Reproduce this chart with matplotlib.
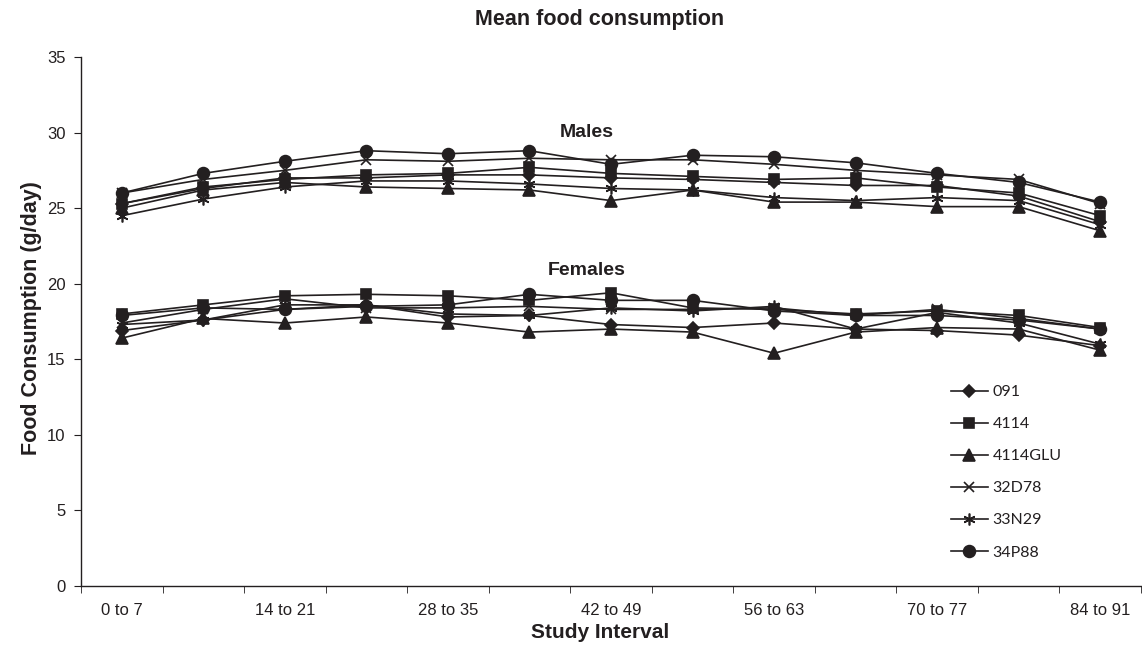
import matplotlib
matplotlib.use("Agg")
import matplotlib.pyplot as plt
import numpy as np

intervals = ["0 to 7", "7 to 14", "14 to 21", "21 to 28", "28 to 35", "35 to 42", "42 to 49",
             "49 to 56", "56 to 63", "63 to 70", "70 to 77", "77 to 84", "84 to 91"]
series_names = ["091", "4114", "4114GLU", "32D78", "33N29", "34P88"]

male_091 = [25.3, 26.3, 27.0, 27.0, 27.2, 27.2, 27.0, 26.9, 26.7, 26.5, 26.5, 25.8, 24.1]
male_4114 = [25.3, 26.4, 26.9, 27.2, 27.3, 27.7, 27.3, 27.1, 26.9, 27.0, 26.4, 26.0, 24.5]
male_4114glu = [25.0, 26.2, 26.7, 26.4, 26.3, 26.2, 25.5, 26.2, 25.4, 25.4, 25.1, 25.1, 23.5]
male_32d78 = [26.0, 26.9, 27.5, 28.2, 28.1, 28.3, 28.2, 28.2, 27.9, 27.5, 27.2, 26.9, 25.3]
male_33n29 = [24.5, 25.6, 26.4, 26.8, 26.8, 26.6, 26.3, 26.2, 25.7, 25.5, 25.7, 25.5, 23.9]
male_34p88 = [26.0, 27.3, 28.1, 28.8, 28.6, 28.8, 27.9, 28.5, 28.4, 28.0, 27.3, 26.7, 25.4]

female_091 = [16.9, 17.6, 18.3, 18.6, 17.8, 17.9, 17.3, 17.1, 17.4, 17.0, 16.9, 16.6, 15.9]
female_4114 = [18.0, 18.6, 19.2, 19.3, 19.2, 18.9, 19.4, 18.4, 18.3, 18.0, 18.2, 17.9, 17.1]
female_4114glu = [16.4, 17.7, 17.4, 17.8, 17.4, 16.8, 17.0, 16.8, 15.4, 16.8, 17.1, 17.0, 15.6]
female_32d78 = [17.4, 18.3, 19.0, 18.4, 18.4, 18.5, 18.3, 18.3, 18.4, 17.9, 18.3, 17.7, 17.0]
female_33n29 = [17.3, 17.6, 18.6, 18.6, 18.0, 17.9, 18.4, 18.2, 18.5, 17.0, 18.1, 17.4, 16.0]
female_34p88 = [17.9, 18.4, 18.3, 18.5, 18.6, 19.3, 18.9, 18.9, 18.2, 17.9, 17.9, 17.6, 17.0]

males = [male_091, male_4114, male_4114glu, male_32d78, male_33n29, male_34p88]
females = [female_091, female_4114, female_4114glu, female_32d78, female_33n29, female_34p88]
markers = ["D", "s", "^", "x", (6, 2, 0), "o"]
msizes = [6.5, 7.5, 8, 7.5, 8.5, 8.5]

col = "#231f20"
plt.rcParams['font.family'] = ['Liberation Sans', 'DejaVu Sans']

W, H = 1142, 651
fig = plt.figure(figsize=(W / 100, H / 100), dpi=100)
ax = fig.add_axes([81 / W, 1 - 586 / H, (1141 - 81) / W, (586 - 57) / H])

x = np.arange(len(intervals))
for i, name in enumerate(series_names):
    ax.plot(x, males[i], color=col, lw=1.2, marker=markers[i], ms=msizes[i],
            mfc=col, mec=col, mew=1.2, label=name, clip_on=False)
    ax.plot(x, females[i], color=col, lw=1.2, marker=markers[i], ms=msizes[i],
            mfc=col, mec=col, mew=1.2, clip_on=False)

ax.set_xlim(-0.5, len(intervals) - 0.5)
ax.set_ylim(0, 35)
ax.set_yticks(np.arange(0, 36, 5))
ax.set_xticks(x[::2])
ax.set_xticklabels(intervals[::2], fontsize=12)
ax.set_xticks(np.arange(-0.5, len(intervals), 1.0), minor=True)
ax.tick_params(axis='x', which='major', length=0, pad=12, colors=col)
ax.tick_params(axis='x', which='minor', length=5, direction='out', color=col)
ax.tick_params(axis='y', length=5, direction='out', labelsize=12, colors=col, pad=6)
for s in ['top', 'right']:
    ax.spines[s].set_visible(False)
for s in ['left', 'bottom']:
    ax.spines[s].set_color(col)
    ax.spines[s].set_linewidth(1.0)

fig.text(600 / W, 1 - 20 / H, "Mean food consumption", fontsize=15.5, fontweight='bold',
         ha='center', va='center', color=col)
fig.text(32 / W, 1 - 318 / H, "Food Consumption (g/day)", fontsize=15.5, fontweight='bold',
         ha='center', va='center', rotation=90, color=col)
fig.text(600 / W, 1 - 632 / H, "Study Interval", fontsize=15, fontweight='bold',
         ha='center', va='center', color=col)

ax.text(5.7, 30.0, "Males", fontsize=14, fontweight='bold', ha='center', va='center', color=col)
ax.text(5.7, 20.9, "Females", fontsize=14, fontweight='bold', ha='center', va='center', color=col)

leg = ax.legend(loc='upper left', bbox_to_anchor=((951 - 81) / (1141 - 81), (586 - 385) / (586 - 57)),
                frameon=False, prop={'family': 'Lato', 'size': 11.5}, labelspacing=1.12,
                handlelength=2.3, handletextpad=0.3, borderaxespad=0, borderpad=0)
for t in leg.get_texts():
    t.set_color(col)

fig.savefig("out.png", dpi=100, facecolor='white')
